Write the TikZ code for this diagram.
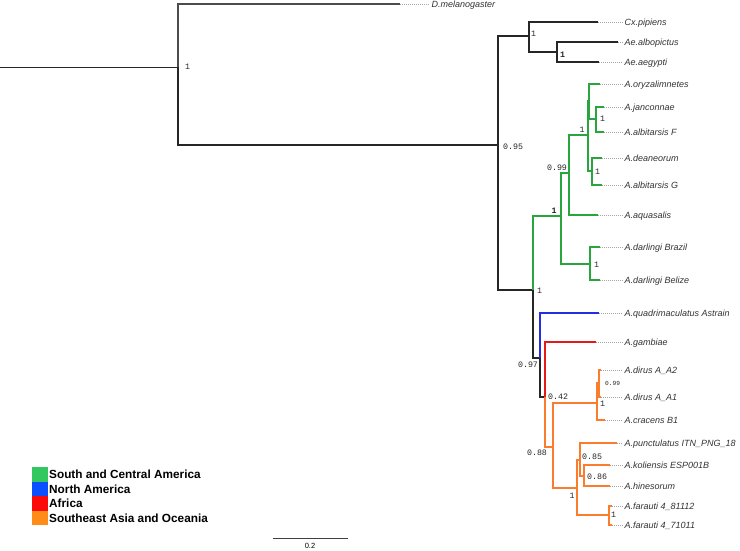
\documentclass[tikz,border=0pt]{standalone}
\usepackage{fontspec}
\setmainfont{Liberation Sans}
\newfontfamily\monofont{Liberation Mono}
\definecolor{tgreen}{RGB}{40,165,60}
\definecolor{tblue}{RGB}{35,45,225}
\definecolor{tred}{RGB}{230,25,25}
\definecolor{torange}{RGB}{250,125,45}
\definecolor{lgreen}{RGB}{50,200,95}
\definecolor{lblue}{RGB}{10,80,255}
\definecolor{lred}{RGB}{250,10,10}
\definecolor{lorange}{RGB}{255,140,25}
\begin{document}
\begin{tikzpicture}[x=1pt,y=-1pt,
  kbr/.style={line width=1.6pt, draw=black!85},
  gbr/.style={line width=1.6pt, draw=tgreen},
  bbr/.style={line width=1.6pt, draw=tblue},
  rbr/.style={line width=1.6pt, draw=tred},
  obr/.style={line width=1.6pt, draw=torange},
  lead/.style={draw=black!35, line width=0.5pt, dash pattern=on 1pt off 1pt},
  tip/.style={anchor=west, inner sep=1.5pt, font=\fontsize{9}{10}\selectfont\itshape, text=black!80, text height=6.5pt, text depth=0pt},
  supp/.style={font=\monofont\fontsize{8.3}{9}\selectfont, inner sep=0pt, text height=5.8pt, text depth=0pt, text=black!85},
  legbox/.style={draw=none, minimum width=16pt, minimum height=14.5pt, inner sep=0pt},
  legtxt/.style={anchor=west, inner sep=0pt, font=\fontsize{11.8}{12}\selectfont\bfseries, text height=8.5pt, text depth=0pt}
]
\useasboundingbox (0,0) rectangle (740,550);
\fill[white] (0,0) rectangle (740,550);

% internal nodes
\coordinate (r) at (0,67);
\coordinate (n0) at (178,67);
\coordinate (n1) at (498,145);
\coordinate (nCx) at (529,36);
\coordinate (nAe) at (557,52);
\coordinate (nN1) at (533,290);
\coordinate (nC) at (561,216);
\coordinate (n099) at (569,173);
\coordinate (nB) at (588,135);
\coordinate (nA) at (589,101);
\coordinate (nJan) at (596,119);
\coordinate (nDea) at (592,171);
\coordinate (nDar) at (590,264);
\coordinate (nN2) at (540,358);
\coordinate (nN3) at (545,397);
\coordinate (nN4) at (553,447);
\coordinate (nD) at (597,403);
\coordinate (nDir) at (599,383);
\coordinate (nE) at (577,488);
\coordinate (nF) at (580,460);
\coordinate (nG) at (584,476);
\coordinate (nH) at (609,515);

% tip ends
\coordinate (eD) at (400,4);
\coordinate (eCx) at (598,22);
\coordinate (eAlb) at (618,42);
\coordinate (eAeg) at (599,62);
\coordinate (eOry) at (600,84);
\coordinate (eJan) at (604,107);
\coordinate (eAlF) at (604,132);
\coordinate (eDea) at (602,158);
\coordinate (eAlG) at (602,185);
\coordinate (eAqu) at (598,215);
\coordinate (eBra) at (600,247);
\coordinate (eBel) at (600,280);
\coordinate (eQua) at (599,313);
\coordinate (eGam) at (596,342);
\coordinate (eA2) at (601,370);
\coordinate (eA1) at (601,397);
\coordinate (eCra) at (605,420);
\coordinate (ePun) at (617,443);
\coordinate (eKol) at (610,465);
\coordinate (eHin) at (610,486);
\coordinate (eF1) at (612,506);
\coordinate (eF2) at (612,525);

% tip labels
\node[tip] (tD) at (430,4) {D.melanogaster};
\node[tip] (tCx) at (623,22) {Cx.pipiens};
\node[tip] (tAlb) at (623,42) {Ae.albopictus};
\node[tip] (tAeg) at (623,62) {Ae.aegypti};
\node[tip] (tOry) at (623,84) {A.oryzalimnetes};
\node[tip] (tJan) at (623,107) {A.janconnae};
\node[tip] (tAlF) at (623,132) {A.albitarsis F};
\node[tip] (tDea) at (623,158) {A.deaneorum};
\node[tip] (tAlG) at (623,185) {A.albitarsis G};
\node[tip] (tAqu) at (623,215) {A.aquasalis};
\node[tip] (tBra) at (623,247) {A.darlingi Brazil};
\node[tip] (tBel) at (623,280) {A.darlingi Belize};
\node[tip] (tQua) at (623,313) {A.quadrimaculatus Astrain};
\node[tip] (tGam) at (623,342) {A.gambiae};
\node[tip] (tA2) at (623,370) {A.dirus A\_A2};
\node[tip] (tA1) at (623,397) {A.dirus A\_A1};
\node[tip] (tCra) at (623,420) {A.cracens B1};
\node[tip] (tPun) at (623,443) {A.punctulatus ITN\_PNG\_18};
\node[tip] (tKol) at (623,465) {A.koliensis ESP001B};
\node[tip] (tHin) at (623,486) {A.hinesorum};
\node[tip] (tF1) at (623,506) {A.farauti 4\_81112};
\node[tip] (tF2) at (623,525) {A.farauti 4\_71011};

% leaders
\foreach \e/\t in {eD/tD,eCx/tCx,eAlb/tAlb,eAeg/tAeg,eOry/tOry,eJan/tJan,eAlF/tAlF,eDea/tDea,eAlG/tAlG,eAqu/tAqu,eBra/tBra,eBel/tBel,eQua/tQua,eGam/tGam,eA2/tA2,eA1/tA1,eCra/tCra,ePun/tPun,eKol/tKol,eHin/tHin,eF1/tF1,eF2/tF2}
  \draw[lead] (\e) -- (\t.west);

% branches
\draw[line width=0.9pt, black!85] (r) -- (n0);
\draw[line width=1.3pt, black!70] (n0) |- (eD);
\draw[line width=1.4pt, black!85] (n0) |- (n1);
\draw[kbr] (n1) |- (nCx);
\draw[kbr] (n1) |- (nN1);
\draw[kbr] (nCx) |- (eCx);
\draw[kbr] (nCx) |- (nAe);
\draw[kbr] (nAe) |- (eAlb);
\draw[kbr] (nAe) |- (eAeg);
\draw[gbr] (nN1) |- (nC);
\draw[kbr] (nN1) |- (nN2);
\draw[gbr] (nC) |- (n099);
\draw[gbr] (nC) |- (nDar);
\draw[gbr] (n099) |- (nB);
\draw[gbr] (n099) |- (eAqu);
\draw[gbr] (nB) |- (nA);
\draw[gbr] (nB) |- (nDea);
\draw[gbr] (nA) |- (eOry);
\draw[gbr] (nA) |- (nJan);
\draw[gbr] (nJan) |- (eJan);
\draw[gbr] (nJan) |- (eAlF);
\draw[gbr] (nDea) |- (eDea);
\draw[gbr] (nDea) |- (eAlG);
\draw[gbr] (nDar) |- (eBra);
\draw[gbr] (nDar) |- (eBel);
\draw[bbr] (nN2) |- (eQua);
\draw[kbr] (nN2) |- (nN3);
\draw[rbr] (nN3) |- (eGam);
\draw[obr] (nN3) |- (nN4);
\draw[obr] (nN4) |- (nD);
\draw[obr] (nN4) |- (nE);
\draw[obr] (nD) |- (nDir);
\draw[obr] (nD) |- (eCra);
\draw[obr] (nDir) |- (eA2);
\draw[obr] (nDir) |- (eA1);
\draw[obr] (nE) |- (nF);
\draw[obr] (nE) |- (nH);
\draw[obr] (nF) |- (ePun);
\draw[obr] (nF) |- (nG);
\draw[obr] (nG) |- (eKol);
\draw[obr] (nG) |- (eHin);
\draw[obr] (nH) |- (eF1);
\draw[obr] (nH) |- (eF2);

% support values
\node[supp, anchor=west] (s0) at (185,67) {1};
\node[supp, anchor=west] (s1) at (503,147) {0.95};
\node[supp, anchor=west] (sCx) at (531,34) {1};
\node[supp, anchor=west, font=\monofont\bfseries\fontsize{8.3}{9}\selectfont] (sAe) at (560,55) {1};
\node[supp, anchor=west] (sJan) at (600,119) {1};
\node[supp] (sB) at (582,130) {1};
\node[supp, anchor=west] (sDea) at (595,172) {1};
\node[supp] (s099) at (557,168) {0.99};
\node[supp, font=\monofont\bfseries\fontsize{8.3}{9}\selectfont] (sC) at (554,211) {1};
\node[supp, anchor=west] (sDar) at (594,265) {1};
\node[supp, anchor=west] (sN1) at (537,291) {1};
\node[supp] (sN2) at (528,365) {0.97};
\node[supp, anchor=west] (sN3) at (548,397) {0.42};
\node[supp] (sN4) at (537,453) {0.88};
\node[supp, anchor=west, font=\monofont\fontsize{6.2}{7}\selectfont, text height=4.4pt] (sDir) at (605,383) {0.99};
\node[supp, anchor=west] (sD) at (600,404) {1};
\node[supp] (sE) at (572,496) {1};
\node[supp, anchor=west] (sF) at (582,457) {0.85};
\node[supp, anchor=west] (sG) at (587,477) {0.86};
\node[supp, anchor=west] (sH) at (611,515) {1};

% legend
\node[legbox, fill=lgreen, anchor=north west] (q1) at (32,467) {};
\node[legbox, fill=lblue, anchor=north west] (q2) at (32,481.5) {};
\node[legbox, fill=lred, anchor=north west] (q3) at (32,496) {};
\node[legbox, fill=lorange, anchor=north west] (q4) at (32,510.5) {};
\node[legtxt] (g1) at (49,474) {South and Central America};
\node[legtxt] (g2) at (49,489) {North America};
\node[legtxt] (g3) at (49,503) {Africa};
\node[legtxt] (g4) at (49,518) {Southeast Asia and Oceania};

% scale bar
\coordinate (b1) at (273,538);
\coordinate (b2) at (348,538);
\draw[line width=1pt, black!75] (b1) -- (b2);
\node[inner sep=0pt, font=\fontsize{7.5}{8}\selectfont, text height=5.4pt, text depth=0pt] (bl) at (310,546) {0.2};
\end{tikzpicture}
\end{document}
